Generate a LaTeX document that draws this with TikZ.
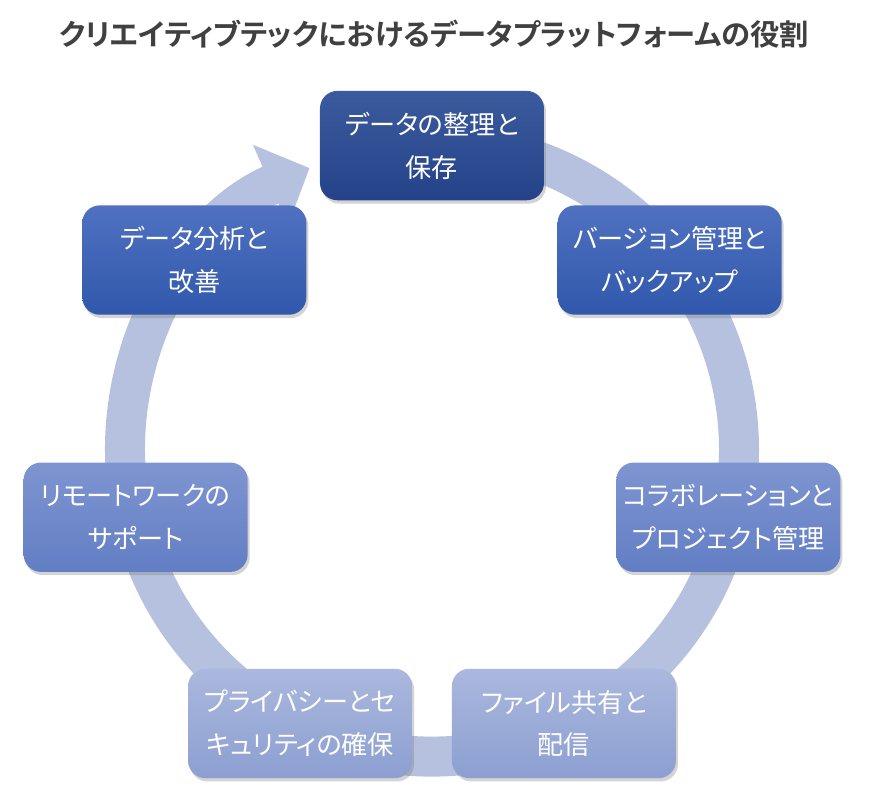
\documentclass[tikz,border=0pt]{standalone}
\usepackage{fontspec}
\newfontfamily\jpfont[RawFeature=+palt]{Noto Sans CJK JP}
\newfontfamily\jpbold[RawFeature=+palt]{Noto Sans CJK JP Bold}
\usetikzlibrary{arrows.meta,shadows}

\definecolor{ringcol}{RGB}{181,193,223}
\definecolor{titlecol}{RGB}{64,64,64}
\definecolor{topA}{RGB}{60,91,158}   \definecolor{botA}{RGB}{36,66,136}
\definecolor{topB}{RGB}{80,113,192}  \definecolor{botB}{RGB}{48,88,172}
\definecolor{topC}{RGB}{127,149,209} \definecolor{botC}{RGB}{98,126,196}
\definecolor{topD}{RGB}{171,184,222} \definecolor{botD}{RGB}{140,159,209}

\tikzset{
  stagebox/.style={rounded corners=13pt, minimum width=168pt, minimum height=82pt,
    align=center, text=white, font=\jpfont\fontsize{19.6}{32}\selectfont,
    drop shadow={shadow xshift=1.5pt, shadow yshift=-2.5pt, opacity=0.35}},
}

\begin{document}
\begin{tikzpicture}[x=0.75pt,y=0.75pt]
 \useasboundingbox (-432,-353.4) rectangle (440,449.6);

 % draw the title
 \node (title) at (2,415) {\color{titlecol}\jpbold\fontsize{22}{26}\selectfont
   クリエイティブテックにおけるデータプラットフォームの役割};

 % draw the ring with its arrow head
 \draw[ringcol, line width=30pt, -{Triangle[width=64pt,length=32pt]}]
   (95:307) arc[start angle=95, end angle=-246.5, radius=307];

 % draw each stage
 \foreach \i/\c/\xtext in {
     0/A/{データの整理と\\保存},
     1/B/{バージョン管理と\\バックアップ},
     2/C/{コラボレーションと\\プロジェクト管理},
     3/D/{ファイル共有と\\配信},
     4/D/{プライバシーとセ\\キュリティの確保},
     5/C/{リモートワークの\\サポート},
     6/B/{データ分析と\\改善}}
         \node[stagebox, top color=top\c, bottom color=bot\c]
           (stage\i) at ({90-\i*360/7}:304) {\xtext};
\end{tikzpicture}
\end{document}
